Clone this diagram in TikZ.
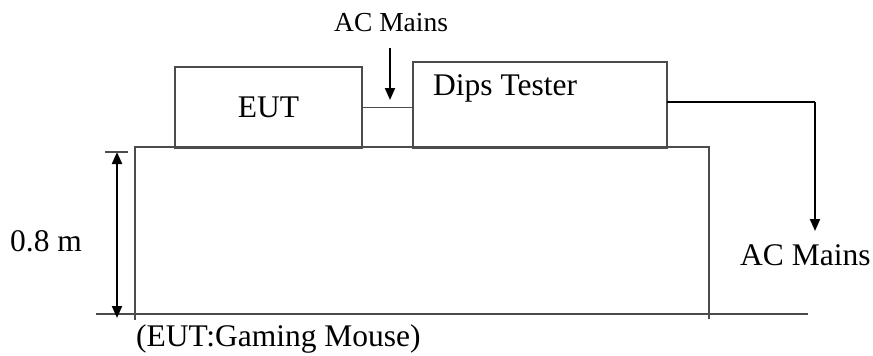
\documentclass[tikz,border=0pt]{standalone}
\usepackage{fontspec}
\setmainfont{Liberation Serif}
\usetikzlibrary{arrows.meta}
\definecolor{linegray}{gray}{0.3}
\tikzset{
  thinline/.style={draw=linegray, line width=1.2pt},
  boxnode/.style={thinline, rectangle, inner sep=0pt},
  arr/.style={draw=black, line width=2pt, -{Triangle[length=12pt,width=10pt]}},
  dblarr/.style={draw=black, line width=2pt, {Triangle[length=12pt,width=10pt]}-{Triangle[length=12pt,width=10pt]}},
  lbl/.style={inner sep=0pt, anchor=base west, font=\fontsize{31.5}{36}\selectfont},
  smalllbl/.style={inner sep=0pt, anchor=base west, font=\fontsize{27.5}{32}\selectfont},
}
\begin{document}
\begin{tikzpicture}[x=1pt,y=-1pt]
\useasboundingbox (0,0) rectangle (873,356);
% table and floor
\draw[thinline] (135,320) -- (135,147) -- (709,147) -- (709,319);
\draw[thinline] (96,314) -- (808,314);
% boxes
\node[boxnode, minimum width=187pt, minimum height=81pt, font=\fontsize{31.5}{36}\selectfont] (eut) at (268.5,107.5) {EUT};
\node[boxnode, minimum width=254pt, minimum height=86pt] (dips) at (540,105) {};
\node[lbl] (dipslbl) at (433,95) {Dips Tester};
% connector between EUT and Dips Tester
\draw[thinline] (eut.east) -- (eut.east -| dips.west);
% top AC Mains
\node[smalllbl] (acm1) at (334,31) {AC Mains};
\coordinate (a1s) at (390,48);
\coordinate (a1e) at (390,100);
\draw[arr] (a1s) -- (a1e);
% right AC Mains
\coordinate (r1) at (667,102);
\coordinate (r2) at (815,102);
\coordinate (r3) at (815,231);
\draw[black, line width=2pt] (r1) -- (r2);
\draw[arr] (r2) -- (r3);
\node[lbl] (acm2) at (740,265) {AC Mains};
% height dimension
\coordinate (h1) at (117,152);
\coordinate (h2) at (117,318);
\draw[dblarr] (h1) -- (h2);
\coordinate (t1) at (105,152);
\coordinate (t2) at (128,152);
\draw[thinline] (t1) -- (t2);
\node[lbl] (hlbl) at (10,251) {0.8 m};
% caption
\node[lbl] (cap) at (136,346) {(EUT:Gaming Mouse)};
\end{tikzpicture}
\end{document}
